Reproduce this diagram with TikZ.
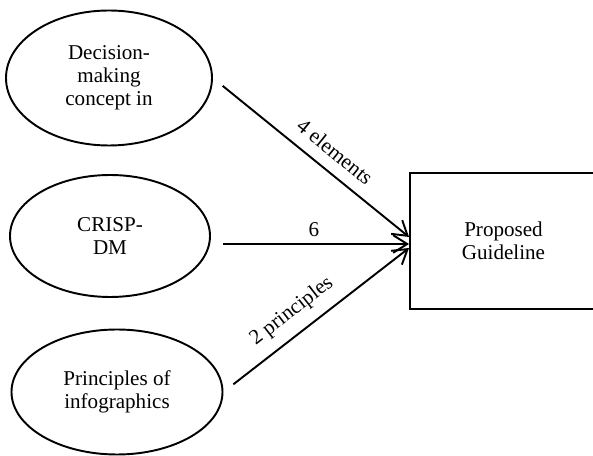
\documentclass[tikz,border=0pt]{standalone}
\usepackage{fontspec}
\setmainfont{Liberation Serif}
\usetikzlibrary{shapes.geometric, arrows.meta}

\begin{document}
\begin{tikzpicture}[
  font=\fontsize{12}{13.2}\selectfont,
  source/.style={ellipse, draw, line width=1.1pt, inner sep=0pt, align=center},
  flow/.style={line width=1.1pt, -{Straight Barb[length=8pt,width=10pt]}, shorten <=0.25cm},
  lbl/.style={sloped, above=3pt}]
  \useasboundingbox (0,0) rectangle (11.86,9.12);
  \node[source, minimum width=4.12cm, minimum height=2.7cm] (dm) at (2.18,7.56) {Decision-\\making\\concept in};
  \node[source, minimum width=4.0cm, minimum height=2.44cm] (crisp) at (2.2,4.4) {CRISP-\\DM};
  \node[source, minimum width=4.22cm, minimum height=2.5cm] (info) at (2.34,1.28) {Principles of\\infographics};
  \node[draw, line width=1.1pt, minimum width=3.74cm, minimum height=2.72cm, align=center] (guide) at (10.07,4.30) {Proposed\\Guideline};
  \draw[flow] (dm.east) -- node[lbl, pos=0.56] {4 elements} ([yshift=0.08cm]guide.west);
  \draw[flow] ([yshift=-0.16cm]crisp.east) -- node[above, pos=0.52] {6} ([yshift=-0.16cm]crisp.east -| guide.west);
  \draw[flow] (info.east) -- node[lbl, pos=0.44] {2 principles} ([yshift=-0.14cm]guide.west);
\end{tikzpicture}
\end{document}
